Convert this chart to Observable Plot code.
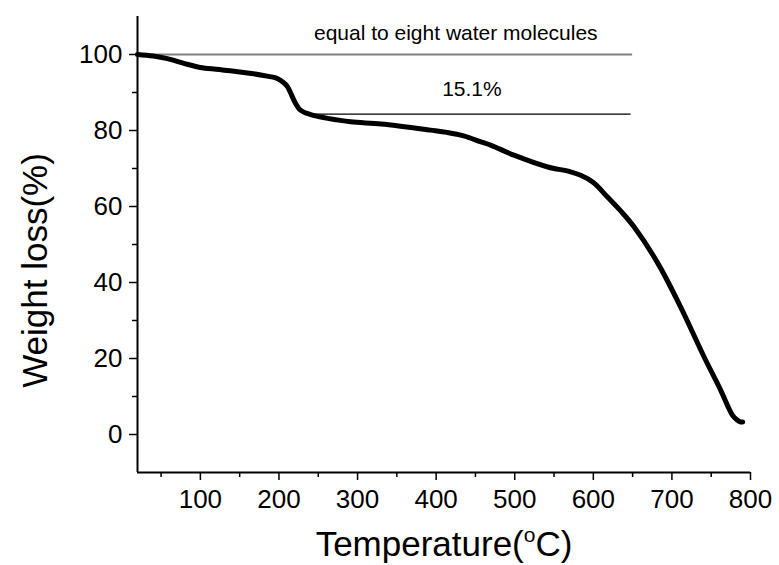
<!DOCTYPE html>
<html>
<head>
<meta charset="utf-8">
<script src="https://cdn.jsdelivr.net/npm/d3@7"></script>
<script src="https://cdn.jsdelivr.net/npm/@observablehq/plot@0.6"></script>
<style>
  html, body { margin: 0; padding: 0; background: #fff; }
</style>
</head>
<body>
<div id="chart"></div>
<script>
// Temperature (°C) and weight (%)
const temperature = [20, 40, 58, 80, 100, 120, 143, 165, 185, 195, 202, 207, 211, 215, 219, 222, 226, 231, 236, 245, 262, 291, 330, 393, 414, 435, 457, 470, 499, 542, 570, 584, 600, 618, 635, 652, 682, 711, 741, 762, 777, 783, 787, 790];
const weight = [100, 99.6, 98.9, 97.6, 96.6, 96.1, 95.6, 95.0, 94.3, 93.9, 93.2, 92.4, 91.5, 89.8, 88.0, 86.8, 85.6, 84.9, 84.5, 83.9, 83.2, 82.3, 81.7, 80.1, 79.5, 78.6, 77.0, 76.1, 73.5, 70.4, 69.2, 68.2, 66.3, 62.5, 58.8, 54.6, 45.1, 33.6, 20.4, 11.7, 5.1, 3.8, 3.3, 3.3];

const xMajorTicks = [100, 200, 300, 400, 500, 600, 700, 800];
const xMinorTicks = [50, 150, 250, 350, 450, 550, 650, 750];
const yMajorTicks = [0, 20, 40, 60, 80, 100];
const yMinorTicks = [10, 30, 50, 70, 90];

const xDomain = [20, 800];
const yDomain = [-10, 110];

// Annotation reference lines
const refLines = [
  {y: 100, x1: 20, x2: 650, color: "#808080", width: 2},
  {y: 84.3, x1: 245, x2: 648, color: "#000000", width: 1.2}
];
const annotations = [
  {x: 425, y: 103.8, text: "equal to eight water molecules"},
  {x: 445.5, y: 89.1, text: "15.1%"}
];
const xTitle = "Temperature(oC)";
const yTitle = "Weight loss(%)";

const data = temperature.map((t, i) => ({t, w: weight[i]}));

const chart = Plot.plot({
  width: 779,
  height: 565,
  marginLeft: 137,
  marginRight: 29,
  marginTop: 16,
  marginBottom: 93,
  x: {domain: xDomain},
  y: {domain: yDomain},
  style: {fontFamily: "'Liberation Sans', Arial, sans-serif", color: "#000", background: "#fff"},
  marks: [
    Plot.axisX(xMajorTicks, {tickSize: 8, tickPadding: 9, fontSize: 26, strokeWidth: 1.5, label: null}),
    Plot.axisX(xMinorTicks, {tickSize: 5, text: null, strokeWidth: 1.5, label: null}),
    Plot.axisY(yMajorTicks, {tickSize: 8, tickPadding: 7, fontSize: 26, strokeWidth: 1.5, label: null}),
    Plot.axisY(yMinorTicks, {tickSize: 5, text: null, strokeWidth: 1.5, label: null}),
    Plot.ruleY([yDomain[0]], {x1: xDomain[0], x2: xDomain[1], stroke: "#000", strokeWidth: 2}),
    Plot.ruleX([xDomain[0]], {y1: yDomain[0], y2: yDomain[1], stroke: "#000", strokeWidth: 2}),
    Plot.ruleY(refLines, {y: "y", x1: "x1", x2: "x2", stroke: "color", strokeWidth: "width"}),
    Plot.line(data, {x: "t", y: "w", stroke: "#000", strokeWidth: 5, curve: "catmull-rom"}),
    Plot.text(annotations, {x: "x", y: "y", text: "text", fontSize: 21, lineAnchor: "bottom", fill: "#000"}),
    Plot.text([xTitle], {frameAnchor: "bottom", dy: 83, lineAnchor: "bottom", textAnchor: "middle", fontSize: 35, fill: "#000"}),
    Plot.text([yTitle], {frameAnchor: "left", rotate: -90, dx: -102, dy: 26, lineAnchor: "middle", textAnchor: "middle", fontSize: 35, fill: "#000"})
  ]
});

// Superscript "o" in the x-axis title
d3.select(chart).selectAll("text").filter(function() { return this.textContent === xTitle; })
  .each(function() {
    const t = d3.select(this);
    t.text(null);
    t.append("tspan").text("Temperature(");
    t.append("tspan").attr("font-size", 21).attr("dy", -14).text("o");
    t.append("tspan").attr("dy", 14).text("C)");
  });

document.getElementById("chart").appendChild(chart);
</script>
</body>
</html>
